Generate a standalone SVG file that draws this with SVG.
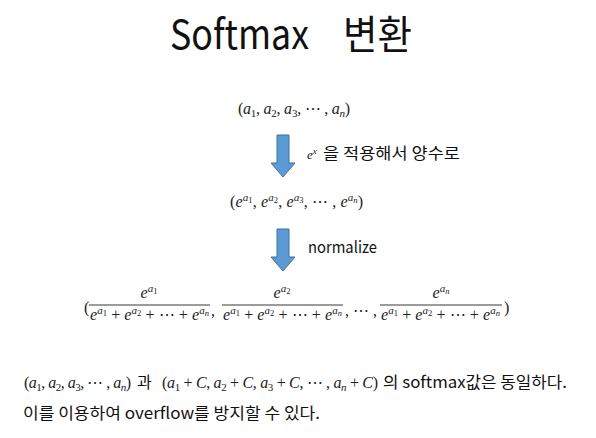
<svg xmlns="http://www.w3.org/2000/svg" width="596" height="438" viewBox="0 0 596 438">
  <defs>
    <style>
      .title { font-family: "Noto Sans CJK KR", "Noto Sans", sans-serif; font-size: 40px; fill: #111; }
      .kr { font-family: "Noto Sans CJK KR", "Noto Sans", sans-serif; font-size: 16px; fill: #111; }
      .m { font-family: "Liberation Serif", "DejaVu Serif", serif; font-size: 16px; fill: #222; }
      .i { font-style: italic; }
      .s { font-size: 11px; }
      .ss { font-size: 8.5px; }
      .bar { stroke: #222; stroke-width: 0.9; }
      .arrow { fill: #5b9bd5; stroke: #41719c; stroke-width: 1; }
    </style>
  </defs>

  <rect width="596" height="438" fill="#ffffff"/>

  <!-- heading -->
  <g id="title">
    <text class="title" x="170" y="49" textLength="139" lengthAdjust="spacingAndGlyphs">Softmax</text>
    <text class="title" x="343" y="49" textLength="69" lengthAdjust="spacingAndGlyphs">변환</text>
  </g>

  <!-- input vector -->
  <g id="input">
    <text class="m" x="238" y="114" textLength="112">(<tspan class="i">a</tspan><tspan class="s" dy="3">1</tspan><tspan dy="-3">, </tspan><tspan class="i">a</tspan><tspan class="s" dy="3">2</tspan><tspan dy="-3">, </tspan><tspan class="i">a</tspan><tspan class="s" dy="3">3</tspan><tspan dy="-3">, ⋯ , </tspan><tspan class="i">a</tspan><tspan class="s i" dy="3">n</tspan><tspan dy="-3">)</tspan></text>
  </g>

  <!-- exponentiated vector -->
  <g id="exp">
    <text class="m" x="230" y="207" textLength="133">(<tspan class="i">e</tspan><tspan class="s i" dy="-6">a</tspan><tspan class="ss" dy="1.5">1</tspan><tspan dy="4.5">, </tspan><tspan class="i">e</tspan><tspan class="s i" dy="-6">a</tspan><tspan class="ss" dy="1.5">2</tspan><tspan dy="4.5">, </tspan><tspan class="i">e</tspan><tspan class="s i" dy="-6">a</tspan><tspan class="ss" dy="1.5">3</tspan><tspan dy="4.5">, ⋯ , </tspan><tspan class="i">e</tspan><tspan class="s i" dy="-6">a</tspan><tspan class="ss i" dy="1.5">n</tspan><tspan dy="4.5">)</tspan></text>
  </g>

  <!-- normalized vector -->
  <g id="softmax">
    <text class="m" x="84" y="313">(</text>
    <!-- fraction 1 -->
    <text class="m" x="149" y="298" text-anchor="middle"><tspan class="i">e</tspan><tspan class="s i" dy="-6">a</tspan><tspan class="ss" dy="1.5">1</tspan></text>
    <line class="bar" x1="89" y1="305" x2="210" y2="305"/>
    <text class="m" x="90" y="320" textLength="119"><tspan class="i">e</tspan><tspan class="s i" dy="-6">a</tspan><tspan class="ss" dy="1.5">1</tspan><tspan dy="4.5"> + </tspan><tspan class="i">e</tspan><tspan class="s i" dy="-6">a</tspan><tspan class="ss" dy="1.5">2</tspan><tspan dy="4.5"> + ⋯ + </tspan><tspan class="i">e</tspan><tspan class="s i" dy="-6">a</tspan><tspan class="ss i" dy="1.5">n</tspan></text>
    <text class="m" x="211" y="316">,</text>
    <!-- fraction 2 -->
    <text class="m" x="282" y="298" text-anchor="middle"><tspan class="i">e</tspan><tspan class="s i" dy="-6">a</tspan><tspan class="ss" dy="1.5">2</tspan></text>
    <line class="bar" x1="222" y1="305" x2="343" y2="305"/>
    <text class="m" x="223" y="320" textLength="119"><tspan class="i">e</tspan><tspan class="s i" dy="-6">a</tspan><tspan class="ss" dy="1.5">1</tspan><tspan dy="4.5"> + </tspan><tspan class="i">e</tspan><tspan class="s i" dy="-6">a</tspan><tspan class="ss" dy="1.5">2</tspan><tspan dy="4.5"> + ⋯ + </tspan><tspan class="i">e</tspan><tspan class="s i" dy="-6">a</tspan><tspan class="ss i" dy="1.5">n</tspan></text>
    <text class="m" x="345" y="316">, ⋯ ,</text>
    <!-- fraction 3 -->
    <text class="m" x="441" y="298" text-anchor="middle"><tspan class="i">e</tspan><tspan class="s i" dy="-6">a</tspan><tspan class="ss i" dy="1.5">n</tspan></text>
    <line class="bar" x1="380" y1="305" x2="502" y2="305"/>
    <text class="m" x="381" y="320" textLength="119"><tspan class="i">e</tspan><tspan class="s i" dy="-6">a</tspan><tspan class="ss" dy="1.5">1</tspan><tspan dy="4.5"> + </tspan><tspan class="i">e</tspan><tspan class="s i" dy="-6">a</tspan><tspan class="ss" dy="1.5">2</tspan><tspan dy="4.5"> + ⋯ + </tspan><tspan class="i">e</tspan><tspan class="s i" dy="-6">a</tspan><tspan class="ss i" dy="1.5">n</tspan></text>
    <text class="m" x="504" y="313">)</text>
  </g>

  <!-- transition arrows -->
  <g id="connectors">
    <path class="arrow" d="M277,135 H289 V163 H295 L283,177 L271,163 H277 Z"/>
    <path class="arrow" d="M277,229 H289 V257 H295 L283,271 L271,257 H277 Z"/>
  </g>
  <g id="label-exp">
    <text class="m" x="307" y="159" style="font-size:13px"><tspan class="i">e</tspan><tspan class="i" style="font-size:9px" dy="-5">x</tspan></text>
    <text class="kr" x="323" y="159" textLength="137" lengthAdjust="spacingAndGlyphs">을 적용해서 양수로</text>
  </g>
  <g id="label-normalize">
    <text class="kr" x="308" y="253" textLength="69" lengthAdjust="spacingAndGlyphs">normalize</text>
  </g>

  <!-- remarks -->
  <g id="note">
    <text class="m" x="24" y="388" textLength="107">(<tspan class="i">a</tspan><tspan class="s" dy="3">1</tspan><tspan dy="-3">, </tspan><tspan class="i">a</tspan><tspan class="s" dy="3">2</tspan><tspan dy="-3">, </tspan><tspan class="i">a</tspan><tspan class="s" dy="3">3</tspan><tspan dy="-3">, ⋯ , </tspan><tspan class="i">a</tspan><tspan class="s i" dy="3">n</tspan><tspan dy="-3">)</tspan></text>
    <text class="kr" x="137" y="388">과</text>
    <text class="m" x="162" y="388" textLength="216">(<tspan class="i">a</tspan><tspan class="s" dy="3">1</tspan><tspan dy="-3"> + </tspan><tspan class="i">C</tspan>, <tspan class="i">a</tspan><tspan class="s" dy="3">2</tspan><tspan dy="-3"> + </tspan><tspan class="i">C</tspan>, <tspan class="i">a</tspan><tspan class="s" dy="3">3</tspan><tspan dy="-3"> + </tspan><tspan class="i">C</tspan>, ⋯ , <tspan class="i">a</tspan><tspan class="s i" dy="3">n</tspan><tspan dy="-3"> + </tspan><tspan class="i">C</tspan>)</text>
    <text class="kr" x="383" y="388" textLength="184" lengthAdjust="spacingAndGlyphs">의 softmax값은 동일하다.</text>
    <text class="kr" x="23" y="419" textLength="297" lengthAdjust="spacingAndGlyphs">이를 이용하여 overflow를 방지할 수 있다.</text>
  </g>
</svg>
